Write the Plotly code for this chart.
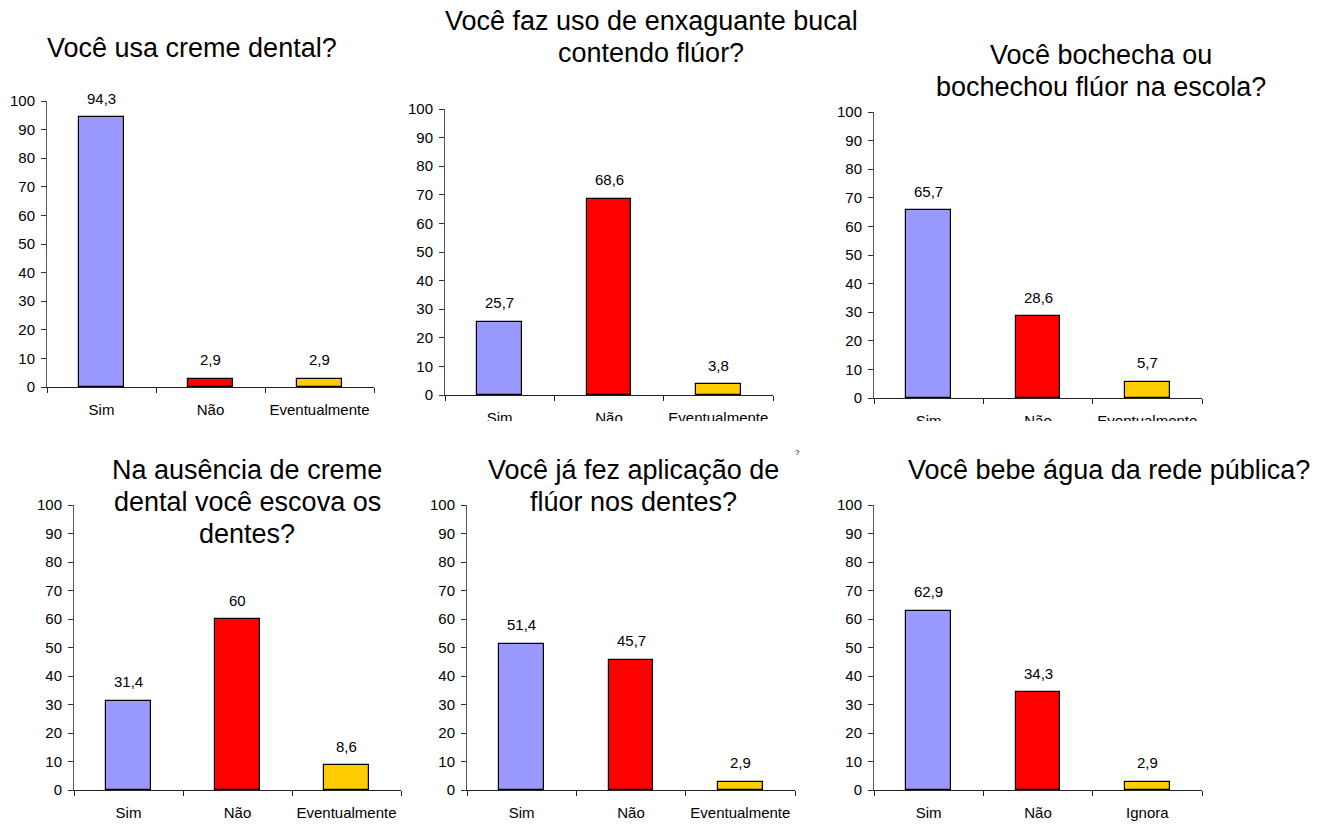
import plotly.graph_objects as go

W, H = 1328, 826

# ---- data ----
titles = [
    ["Você usa creme dental?"],
    ["Você faz uso de enxaguante bucal", "contendo flúor?"],
    ["Você bochecha ou", "bochechou flúor na escola?"],
    ["Na ausência de creme", "dental você escova os", "dentes?"],
    ["Você já fez aplicação de", "flúor nos dentes?"],
    ["Você bebe água da rede pública?"],
]
categories = [
    ["Sim", "Não", "Eventualmente"],
    ["Sim", "Não", "Eventualmente"],
    ["Sim", "Não", "Eventualmente"],
    ["Sim", "Não", "Eventualmente"],
    ["Sim", "Não", "Eventualmente"],
    ["Sim", "Não", "Ignora"],
]
values = [
    [94.3, 2.9, 2.9],
    [25.7, 68.6, 3.8],
    [65.7, 28.6, 5.7],
    [31.4, 60, 8.6],
    [51.4, 45.7, 2.9],
    [62.9, 34.3, 2.9],
]
y_ticks = [0, 10, 20, 30, 40, 50, 60, 70, 80, 90, 100]

# ---- layout (pixel boxes) ----
boxes = [  # x0, x1, ytop, ybottom
    (47, 374, 101, 387),
    (445, 773, 109, 395),
    (874, 1202, 112, 398),
    (74, 401, 505, 790),
    (467, 795, 505, 790),
    (874, 1202, 505, 790),
]
title_pos = [  # center x, first baseline
    (192, 56),
    (651, 29),
    (1101, 63),
    (247, 478),
    (633, 478),
    (1109, 478),
]
colors = ["#9999FF", "#FF0000", "#FFCC00"]
FONT = "Liberation Sans, Arial, sans-serif"

fig = go.Figure()
annotations = []
for i in range(6):
    n = i + 1
    xa = "x" if n == 1 else f"x{n}"
    ya = "y" if n == 1 else f"y{n}"
    fig.add_trace(go.Bar(
        x=categories[i], y=values[i], xaxis=xa, yaxis=ya,
        marker=dict(color=colors, line=dict(color="black", width=1.2)),
        width=0.41, showlegend=False, hoverinfo="skip",
    ))
    x0, x1, yt, yb = boxes[i]
    fig.layout[f"xaxis{'' if n == 1 else n}"] = dict(
        domain=[x0 / W, x1 / W], anchor=ya, type="category",
        range=[-0.5, 2.5], showline=True, linecolor="#222", linewidth=1,
        ticks="outside", ticklen=5, tickcolor="#222", tickson="boundaries",
        showgrid=False, zeroline=False, ticklabelstandoff=9, tickangle=0,
        automargin=False,
        tickfont=dict(family=FONT, size=15, color="black"), fixedrange=True,
    )
    fig.layout[f"yaxis{'' if n == 1 else n}"] = dict(
        domain=[1 - yb / H, 1 - yt / H], anchor=xa, range=[0, 100],
        tickvals=y_ticks, showline=True, linecolor="#555", linewidth=1,
        ticks="outside", ticklen=5, tickcolor="#333", showgrid=False,
        zeroline=False, ticklabelstandoff=3, automargin=False,
        tickfont=dict(family=FONT, size=15, color="black"), fixedrange=True,
    )
    for c, v in zip(categories[i], values[i]):
        annotations.append(dict(
            x=c, y=v, xref=xa, yref=ya, text=f"{v:g}".replace(".", ","),
            showarrow=False, yanchor="middle", yshift=19,
            font=dict(family=FONT, size=15, color="black"),
        ))
    cx, base = title_pos[i]
    for k, line in enumerate(titles[i]):
        yc = base + k * 32 - 8
        annotations.append(dict(
            x=cx / W, y=1 - yc / H, xref="paper", yref="paper", text=line,
            showarrow=False, xanchor="center", yanchor="middle",
            font=dict(family=FONT, size=27, color="black"),
        ))

# stray mark
annotations.append(dict(x=797 / W, y=1 - 452 / H, xref="paper", yref="paper",
                        text="?", showarrow=False, font=dict(family=FONT, size=8, color="black")))

fig.update_layout(
    template="none",
    width=W, height=H, margin=dict(l=0, r=0, t=0, b=0),
    paper_bgcolor="white", plot_bgcolor="white",
    annotations=annotations, bargap=0,
    shapes=[dict(type="rect", xref="paper", yref="paper",
                 x0=415 / W, x1=1, y0=1 - 446 / H, y1=1 - 421 / H,
                 fillcolor="white", line=dict(width=0), layer="above")],
)
fig.write_html("out.html", config={"displayModeBar": False},
               post_script="document.body.style.margin='0px';document.body.style.overflow='hidden';")
